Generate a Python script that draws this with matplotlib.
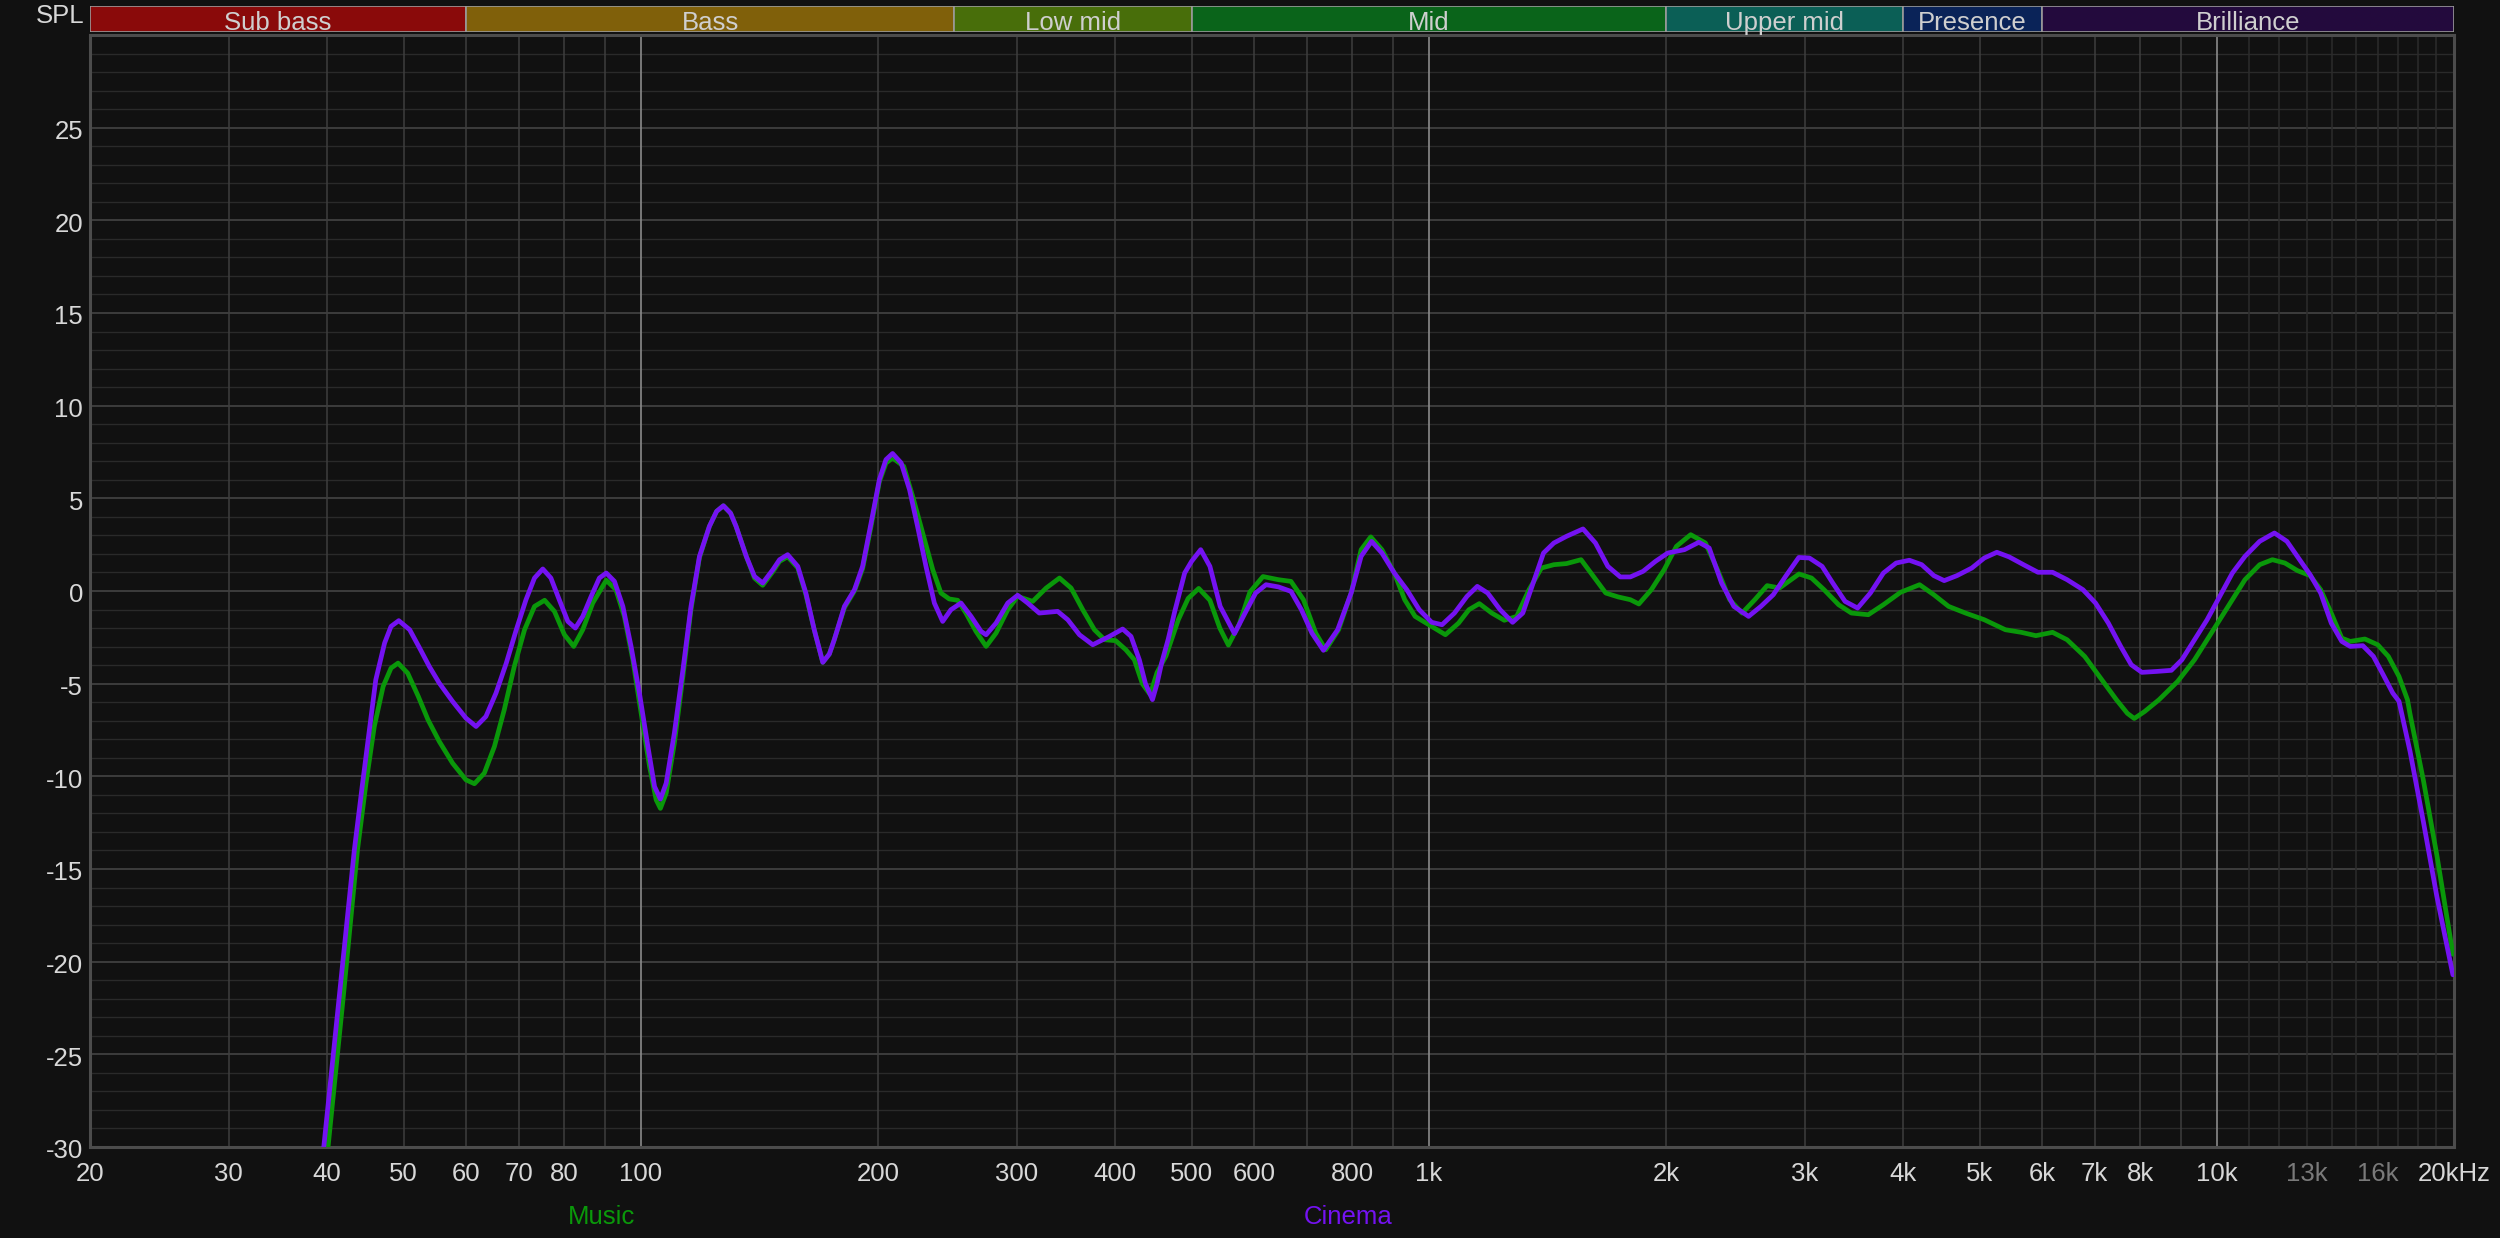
import matplotlib
matplotlib.use("Agg")
import matplotlib.pyplot as plt
from matplotlib.transforms import ScaledTranslation

# ---------------- data ----------------
cinema_freq = [36.5, 38, 39.6, 41.4, 43.3, 44.3, 45.3, 46.1, 47.3, 48.2, 49.3, 50.9, 52.4, 53.9, 55.5, 57.7,
               60.0, 61.8, 63.6, 65.5, 67.5, 69.5, 71.5, 73.3, 75.1, 76.9, 78.8, 80.8, 82.6, 84.4, 86.5,
               88.6, 90.4, 92.6, 94.9, 97.2, 99.6, 102.1, 104.1, 105.9, 107.7, 110.3, 113.1, 115.8, 118.7,
               122.2, 124.8, 127.3, 130, 132.1, 136.1, 139.4, 142.8, 147.1, 150, 153.6, 158.2, 162.0, 166.0,
               170.2, 173.5, 176.0, 181.3, 186.7, 191.2, 196.0, 200.8, 204.7, 208.7, 214.0, 219.3, 224.5,
               230.1, 235.8, 241.6, 247.5, 254.9, 262.5, 270.3, 274.3, 282.4, 292.2, 300.8, 309.7, 320.4,
               338.1, 348.2, 360.3, 374.6, 393.3, 408.8, 418.9, 429.2, 437, 446, 452, 458, 467, 476, 490,
               500, 513.5, 527.5, 543.6, 566.8, 584.6, 602.9, 621.5, 644.5, 668.5, 689.2, 710.7, 735, 766.2,
               797.0, 820.6, 846.0, 872.0, 904.2, 937.8, 972.5, 1008.5, 1039.5, 1078.0, 1118.0, 1152.2,
               1187.8, 1231.8, 1277.5, 1316.2, 1356.6, 1398.2, 1441.1, 1495.4, 1569.4, 1627.5, 1687.5,
               1750.0, 1802.4, 1870.0, 1939.4, 2010.5, 2110.8, 2201.6, 2269.0, 2352.6, 2438.7, 2545.8,
               2639.0, 2736.4, 2836.7, 2948, 3041, 3156, 3256, 3375, 3501, 3634, 3775, 3918, 4072, 4222,
               4374, 4509, 4681, 4888, 5069, 5259, 5451, 5685, 5930, 6188, 6457, 6764, 7016, 7284, 7552,
               7789, 8034, 8389, 8757, 9031, 9370, 9721, 10086, 10466, 10858, 11335, 11835, 12275, 12738,
               13136, 13547, 13971, 14408, 14766, 15322, 15805, 16304, 16725, 17030, 17590, 18290, 19020,
               19936]
cinema_db = [-45, -38, -30, -22, -13.97, -10.55, -7.31, -4.79, -2.81, -1.91, -1.60, -2.09, -3.08, -4.07, -4.97,
             -5.96, -6.86, -7.31, -6.77, -5.51, -3.89, -2.09, -0.47, 0.70, 1.19, 0.70, -0.47, -1.64, -2.00,
             -1.37, -0.29, 0.70, 0.97, 0.52, -0.83, -2.99, -5.51, -8.39, -10.55, -11.23, -10.37, -7.67,
             -4.25, -0.83, 1.87, 3.49, 4.3, 4.6, 4.2, 3.49, 1.87, 0.79, 0.43, 1.15, 1.69, 1.96, 1.33, -0.11,
             -2.09, -3.85, -3.4, -2.63, -0.83, 0.07, 1.33, 3.67, 6.01, 7.09, 7.42, 6.91, 5.47, 3.49,
             1.33, -0.65, -1.64, -1.01, -0.65, -1.37, -2.18, -2.36, -1.73, -0.65, -0.23, -0.65, -1.19,
             -1.10, -1.55, -2.36, -2.90, -2.45, -2.05, -2.45, -3.71, -5.0, -5.86, -5.0, -3.9, -2.6, -1.1, 0.97,
             1.6, 2.23, 1.33, -0.83, -2.3, -1.19, -0.11, 0.34, 0.22, -0.02, -1.01, -2.27, -3.2, -2.09,
             -0.11, 1.87, 2.68, 2.05, 0.97, 0.07, -1.01, -1.69, -1.82, -1.19, -0.29, 0.25,
             -0.11, -1.01, -1.69, -1.19, 0.43, 2.05, 2.59, 2.95, 3.35, 2.59, 1.33,
             0.76, 0.76, 1.06, 1.60, 2.05, 2.23, 2.63, 2.32, 0.43, -0.83, -1.37,
             -0.83, -0.20, 0.79, 1.81, 1.78, 1.33, 0.43, -0.56, -0.92, -0.11, 0.97, 1.51, 1.66, 1.42,
             0.83, 0.56, 0.83, 1.24, 1.78, 2.09, 1.84, 1.42, 1.01, 1.01, 0.61, 0.07, -0.65, -1.73, -2.99,
             -3.98, -4.39, -4.34, -4.28, -3.71, -2.63, -1.55, -0.29, 0.97, 1.87, 2.68, 3.13, 2.68, 1.69,
             0.88, -0.11, -1.73, -2.72, -2.99, -2.95, -3.53, -4.61, -5.51, -5.95, -8.66, -12.46, -16.47,
             -20.71]

music_freq = [37, 38.5, 40.1, 41.9, 43.7, 44.8, 45.9, 47.1, 48.2, 49.2, 50.6, 52.2, 53.7, 55.5, 57.7, 60.0,
              61.5, 63.3, 65.2, 67.1, 69.1, 71.2, 73.3, 75.5, 77.7, 80.0, 82.2, 84.4, 86.9, 90.4, 93.0, 95.3,
              97.7, 100.1, 102.6, 104.6, 105.9, 107.7, 110.3, 113.1, 115.8, 118.7, 122.2, 124.8, 127.3, 130,
              132.1, 136.1, 139.4, 142.8, 147.1, 150, 153.6, 158.2, 162.0, 166.0, 170.2, 173.5, 176.0,
              181.3, 186.7, 191.2, 196.0, 200.8, 204.7, 208.7, 215.6, 221.3, 227.9, 234.7, 240.4, 246.3,
              252.4, 258.6, 266.3, 274.3, 282.4, 292.2, 300.8, 314.3, 326.9, 339.9, 351.6, 363.8, 376.4,
              387.8, 400.5, 412.6, 423.0, 433, 443, 452, 464, 481, 495, 510.5, 527.5, 543, 556.8, 574.6, 593,
              616, 644.5, 668.5, 693.4, 718.6, 739.9, 768.3, 797.0, 820.6, 844.0, 872.0, 904.2, 932.0,
              960.8, 1008.5, 1049.7, 1091.0, 1124.4, 1159.1, 1202.0, 1246.8, 1292.9, 1340.4, 1389.7,
              1441.1, 1495.4, 1560.4, 1617.6, 1677.3, 1739.0, 1802.4, 1847.5, 1916.1, 1989.2, 2061.9,
              2149.5, 2244.4, 2324.6, 2409.0, 2498.2, 2592.4, 2687.8, 2786.7, 2950, 3060, 3174, 3312, 3438,
              3612, 3775, 3969, 4196, 4374, 4567, 4799, 5069, 5391, 5648, 5894, 6188, 6457, 6798, 7146,
              7459, 7700, 7857, 8100, 8445, 8919, 9370, 9841, 10338, 10858, 11335, 11764, 12201, 12658,
              13136, 13547, 13971, 14408, 14766, 15416, 16003, 16510, 17030, 17458, 17590, 18290, 19020,
              19936]
music_db = [-45, -38, -30, -22, -13.97, -10.37, -7.31, -5.15, -4.16, -3.89, -4.43, -5.69, -6.95, -8.12, -9.29,
            -10.19, -10.40, -9.83, -8.39, -6.41, -4.07, -2.09, -0.83, -0.50, -1.10, -2.36, -2.99, -2.09, -0.65,
            0.58, 0.07, -1.37, -3.71, -6.59, -9.47, -11.27, -11.73, -10.91, -8.21, -4.6, -1.0, 1.8, 3.49, 4.3,
            4.6, 4.2, 3.49, 1.87, 0.7, 0.31, 1.05, 1.6, 1.85, 1.25, -0.2, -2.09, -3.85, -3.4, -2.63,
            -0.9, 0.0, 1.2, 3.5, 5.9, 6.9, 7.18, 6.73, 5.11, 3.13, 1.15, -0.11, -0.43,
            -0.50, -1.19, -2.18, -2.99, -2.27, -1.01, -0.29, -0.56, 0.16, 0.70, 0.16, -1.01, -2.09,
            -2.63, -2.68, -3.17, -3.71, -5.0, -5.59, -4.4, -3.5, -1.55, -0.4, 0.14, -0.5, -2.0, -2.92, -1.8,
            -0.05, 0.78, 0.61, 0.52, -0.47, -2.27, -3.17, -2.09, -0.11, 2.23, 2.92, 2.23, 0.97, -0.47,
            -1.37, -1.91, -2.36, -1.73, -1.01, -0.68, -1.19, -1.58, -1.37, 0.07, 1.24,
            1.42, 1.48, 1.69, 0.79, -0.11, -0.32, -0.47, -0.70, 0.07, 1.15, 2.41,
            3.04, 2.59, 1.15, -0.47, -1.19, -0.47, 0.29, 0.16, 0.92, 0.70, 0.07, -0.74, -1.19,
            -1.28, -0.74, -0.07, 0.34, -0.20, -0.83, -1.19, -1.55, -2.09, -2.23, -2.41, -2.23, -2.63, -3.53,
            -4.79, -5.87, -6.6, -6.88, -6.5, -5.87, -4.88, -3.71, -2.27, -0.83, 0.61, 1.42, 1.69, 1.51, 1.10,
            0.83, 0.07, -1.19, -2.54, -2.72, -2.59, -2.90, -3.53, -4.61, -5.87, -6.65, -10.22, -14.24,
            -19.6]

band_names = ["Sub bass", "Bass", "Low mid", "Mid", "Upper mid", "Presence", "Brilliance"]
band_edges = [20, 60, 250, 500, 2000, 4000, 6000, 20000]
band_colors = ["#8a0a0a", "#80600a", "#486e0a", "#0a641a", "#0b5f56", "#0a2358", "#230a3d"]

x_tick_values = [20, 30, 40, 50, 60, 70, 80, 100, 200, 300, 400, 500, 600, 800, 1000, 2000, 3000, 4000,
                 5000, 6000, 7000, 8000, 10000, 13000, 16000, 20000]
x_tick_labels = ["20", "30", "40", "50", "60", "70", "80", "100", "200", "300", "400", "500", "600", "800",
                 "1k", "2k", "3k", "4k", "5k", "6k", "7k", "8k", "10k", "13k", "16k", "20kHz"]
dim_labels = ["13k", "16k"]
y_tick_values = [25, 20, 15, 10, 5, 0, -5, -10, -15, -20, -25, -30]
series_names = ["Music", "Cinema"]

# ---------------- style ----------------
BG = "#111111"
TXT = "#d8d8d8"
GREEN = "#0a980a"
PURPLE = "#7412f2"
FONT = "Liberation Sans"
FS = 18.5

plt.rcParams["font.family"] = [FONT, "DejaVu Sans"]

W, H = 2500, 1238
fig = plt.figure(figsize=(W / 100, H / 100), dpi=100, facecolor=BG)

L, R, T, B = 90, 2454, 35, 1147
ax = fig.add_axes([L / W, 1 - B / H, (R - L) / W, (B - T) / H])
ax.set_facecolor(BG)
ax.set_xscale("log")
ax.set_xlim(20, 20000)
ax.set_ylim(-30, 30)

# grid: horizontal
for v in range(-30, 31):
    if v % 5 == 0:
        ax.axhline(v, color="#444444", lw=1.2, zorder=1)
    else:
        ax.axhline(v, color="#2a2a2a", lw=1.0, zorder=0.5)

# grid: vertical
grid_freqs = ([f for f in range(20, 100, 10)] + [f for f in range(100, 1000, 100)]
              + [f for f in range(1000, 10000, 1000)])
for f in grid_freqs:
    if f in (100, 1000):
        ax.axvline(f, color="#8a8a8a", lw=1.2, zorder=1.2)
    else:
        ax.axvline(f, color="#3e3e3e", lw=1.1, zorder=1)
ax.axvline(10000, color="#8a8a8a", lw=1.2, zorder=1.2)
for f in range(11000, 20000, 1000):
    ax.axvline(f, color="#2c2c2c", lw=1.1, zorder=1)

# curves
ax.plot(music_freq, music_db, color=GREEN, lw=3.4, zorder=3, solid_capstyle="round", solid_joinstyle="round")
ax.plot(cinema_freq, cinema_db, color=PURPLE, lw=3.4, zorder=4, solid_capstyle="round", solid_joinstyle="round")

# spines
for s in ax.spines.values():
    s.set_color("#4c4c4c")
    s.set_linewidth(2.2)

# ticks
ax.set_xticks(x_tick_values)
ax.set_xticklabels(x_tick_labels)
ax.xaxis.set_minor_locator(matplotlib.ticker.NullLocator())
ax.set_yticks(y_tick_values)
ax.set_yticklabels([str(v) for v in y_tick_values])
ax.tick_params(axis="both", length=0, labelsize=FS, labelcolor=TXT)
ax.tick_params(axis="x", pad=10.5)
ax.tick_params(axis="y", pad=5)
for lab in ax.get_xticklabels():
    lab.set_fontfamily(FONT)
    if lab.get_text() in dim_labels:
        lab.set_color("#7a7a7a")
ydown = ScaledTranslation(0, -2 / 100, fig.dpi_scale_trans)
for lab in ax.get_yticklabels():
    lab.set_fontfamily(FONT)
    lab.set_transform(lab.get_transform() + ydown)

# band strip
bt, bb = 6, 32
axb = fig.add_axes([L / W, 1 - bb / H, (R - L) / W, (bb - bt) / H])
axb.set_xscale("log")
axb.set_xlim(20, 20000)
axb.set_ylim(0, 1)
axb.axis("off")
for i, name in enumerate(band_names):
    lo, hi = band_edges[i], band_edges[i + 1]
    axb.axvspan(lo, hi, facecolor=band_colors[i], edgecolor="#9a9a9a", lw=1.2)
    axb.text((lo * hi) ** 0.5, 0.09, name, ha="center", va="baseline", color="#cfcfcf",
             fontsize=FS, fontfamily=FONT)

# SPL label
fig.text(84 / W, 1 - 23 / H, "SPL", ha="right", va="baseline", color=TXT, fontsize=FS, fontfamily=FONT)

# legend
fig.text(602 / W, 1 - 1224 / H, series_names[0], ha="center", va="baseline", color=GREEN,
         fontsize=FS, fontfamily=FONT)
fig.text(1348 / W, 1 - 1224 / H, series_names[1], ha="center", va="baseline", color=PURPLE,
         fontsize=FS, fontfamily=FONT)

fig.savefig("out.png", dpi=100, facecolor=BG)
